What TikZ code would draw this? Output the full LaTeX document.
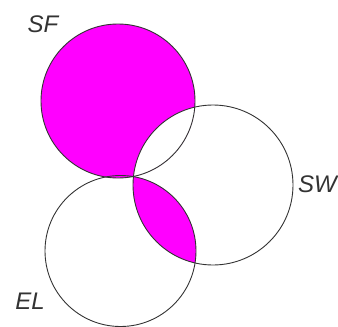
\documentclass[tikz,border=0pt]{standalone}
\usepackage{fontspec}
\setsansfont{Liberation Sans}
\usetikzlibrary{positioning}
\definecolor{setfill}{RGB}{255,0,255}
\tikzset{
    set circle/.style={
        draw=black!80,line width=.9pt,
        circle,inner sep=0pt
    },
    set label/.style={
        font=\sffamily\itshape\fontsize{24}{26}\selectfont,
        text=black!80,inner sep=0pt
    }
}

\begin{document}
\begin{tikzpicture}[x=1pt,y=-1pt]
\useasboundingbox (0,0) rectangle (338,327);
% shaded parts: SF without SW, and SW with EL
\fill[setfill] (118,101) circle[radius=77pt];
\begin{scope}
    \clip (213,185) circle[radius=80pt];
    \fill[white] (118,101) circle[radius=77pt];
    \fill[setfill] (120.5,251) circle[radius=75.5pt];
\end{scope}
% outlines
\foreach \name/\x/\y/\d in {sf/118/101/154,sw/213/185/160,el/120.5/251/151}
    \node[set circle,minimum size=\d pt] (\name) at (\x,\y) {};
\node[set label] (sf label) at (43,24) {SF};
\node[set label,anchor=west] (sw label) at (298,184) {SW};
\node[set label] (el label) at (30,301) {EL};
\end{tikzpicture}
\end{document}
